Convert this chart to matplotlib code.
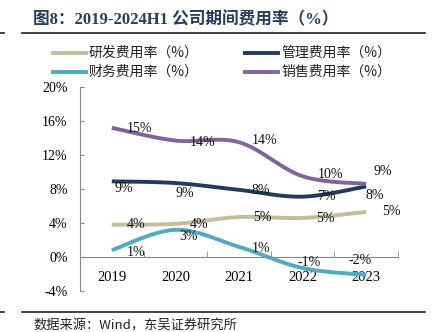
import numpy as np
import matplotlib
matplotlib.use("Agg")
import matplotlib.pyplot as plt
from matplotlib.lines import Line2D

# data (%)
years = ["2019", "2020", "2021", "2022", "2023"]
rd_rate = [3.8, 3.9, 4.7, 4.6, 5.3]        # 研发费用率
admin_rate = [8.9, 8.7, 7.9, 7.1, 8.3]     # 管理费用率
fin_rate = [0.8, 3.2, 1.2, -1.3, -2.1]     # 财务费用率
sales_rate = [15.2, 13.7, 13.5, 9.5, 8.6]  # 销售费用率

series = [
    ("研发费用率（%）", rd_rate, "#C4BD97"),
    ("管理费用率（%）", admin_rate, "#1F3B5E"),
    ("财务费用率（%）", fin_rate, "#4BACC6"),
    ("销售费用率（%）", sales_rate, "#8064A2"),
]

# label offsets in pixels (dx, dy), placed like the original
label_offsets = {
    "研发费用率（%）": [(15, 0), (14, -1), (14, 0), (14, -1), (16, 0)],
    "管理费用率（%）": [(3, -7), (0, -10), (13, -1), (15, 0), (-1, -9)],
    "财务费用率（%）": [(15, -2), (4, -7), (13, -2), (-5, 6), (-18, 14)],
    "销售费用率（%）": [(15, -1), (14, -2), (13, 2), (15, 2), (7, 12)],
}

W, H = 433, 332
serif = ["Liberation Serif", "Noto Sans CJK SC"]
cjk = ["Noto Sans CJK SC", "Liberation Serif"]
plt.rcParams["font.family"] = serif


def smooth(xs, ys, n=30):
    # excel-like smoothed line (catmull-rom as bezier)
    pts = np.column_stack([xs, ys]).astype(float)
    p = np.vstack([pts[0], pts, pts[-1]])
    out = []
    t = np.linspace(0, 1, n)[:, None]
    for i in range(1, len(p) - 2):
        p0, p1, p2, p3 = p[i - 1], p[i], p[i + 1], p[i + 2]
        c1 = p1 + (p2 - p0) / 6
        c2 = p2 - (p3 - p1) / 6
        seg = (1 - t) ** 3 * p1 + 3 * (1 - t) ** 2 * t * c1 + 3 * (1 - t) * t ** 2 * c2 + t ** 3 * p2
        out.append(seg)
    out = np.vstack(out)
    return out[:, 0], out[:, 1]


fig = plt.figure(figsize=(W / 100, H / 100), dpi=100)
ax = fig.add_axes([80 / W, (H - 291) / H, 318 / W, 204 / H])

# spines first (set_position resets the ticks)
for s in ["top", "right"]:
    ax.spines[s].set_visible(False)
ax.spines["bottom"].set_position(("data", 0))
for s in ["left", "bottom"]:
    ax.spines[s].set_color("#888888")
    ax.spines[s].set_linewidth(0.8)
ax.patch.set_alpha(0)

x = np.arange(len(years))
for name, vals, col in series:
    sx, sy = smooth(x, vals)
    ax.plot(sx, sy, color=col, lw=2.8, solid_capstyle="butt", zorder=3)
    for xi, v, (dx, dy) in zip(x, vals, label_offsets[name]):
        ax.annotate(f"{v:.0f}%", (xi, v), xytext=(dx, dy), textcoords="offset pixels",
                    ha="left", va="center", fontsize=10, color="#111111", zorder=4)

ax.set_xlim(-0.5, len(years) - 0.5)
ax.set_ylim(-4, 20)
ax.set_yticks(range(-4, 21, 4))
ax.set_yticklabels([f"{v}%" for v in range(-4, 21, 4)], fontsize=10)
ax.set_xticks(x)
ax.set_xticklabels(years, fontsize=10.5)
ax.set_xticks(np.arange(0.5, len(years), 1), minor=True)
ax.tick_params(axis="x", which="major", length=0, pad=10)
ax.tick_params(axis="x", which="minor", direction="in", length=4, color="#888888")
ax.tick_params(axis="y", direction="in", length=3, color="#888888", pad=9)

# legend drawn by hand, two rows
legend_pos = [(53, 53), (245, 53), (53, 72), (245, 72)]
for (name, vals, col), (lx, ly) in zip(series, legend_pos):
    fig.add_artist(Line2D([lx / W, (lx + 33) / W], [1 - ly / H, 1 - ly / H],
                          color=col, lw=2.8, transform=fig.transFigure))
    fig.text((lx + 36) / W, 1 - ly / H, name, family=cjk, fontsize=10,
             va="center", ha="left", color="#222222")

# title and frame lines
fig.text(33 / W, 1 - 20 / H, "图8：2019-2024H1 公司期间费用率（%）",
         fontsize=12, fontweight="bold", color="#243F60", va="center", ha="left")
for yy in [33, 312]:
    fig.add_artist(Line2D([22 / W, 425 / W], [1 - yy / H, 1 - yy / H], color="#222222",
                          lw=1.2, transform=fig.transFigure))
    fig.add_artist(Line2D([0, 4 / W], [1 - yy / H, 1 - yy / H], color="#222222",
                          lw=1.2, transform=fig.transFigure))
fig.text(33 / W, 1 - 326 / H, "数据来源：Wind，东吴证券研究所", family=cjk,
         fontsize=9.5, color="#222222", va="center", ha="left")

fig.savefig("out.png", dpi=100)
